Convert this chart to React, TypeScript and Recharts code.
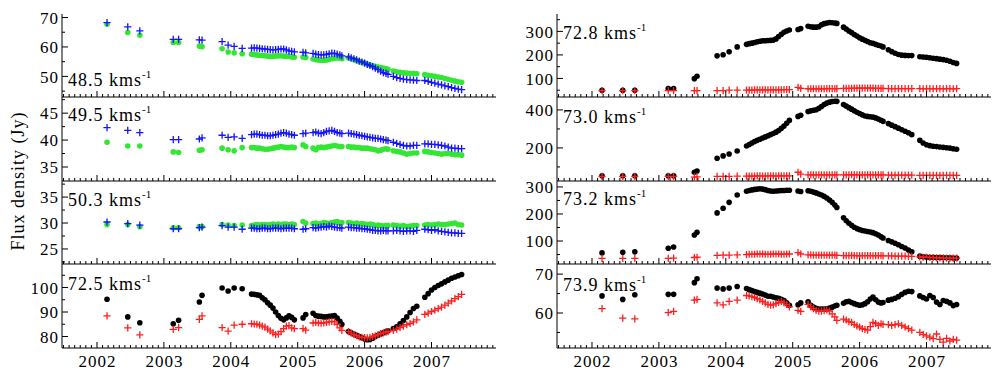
import { ScatterChart, Scatter, XAxis, YAxis } from 'recharts';

// observation epochs (decimal year), shared by every panel
const epochs = [
  2002.15, 2002.46, 2002.64, 2003.14, 2003.22, 2003.53, 2003.57, 2003.87, 2003.96, 2004.05, 2004.17,
  2004.31, 2004.35, 2004.39, 2004.43, 2004.47, 2004.51, 2004.55, 2004.59, 2004.63, 2004.67, 2004.71, 2004.75, 2004.79, 2004.83, 2004.87, 2004.91, 2004.95,
  2005.08, 2005.12,
  2005.23, 2005.27, 2005.31, 2005.35, 2005.39, 2005.43, 2005.47, 2005.51, 2005.55, 2005.59, 2005.63, 2005.66,
  2005.76, 2005.8, 2005.84, 2005.88, 2005.92, 2005.96, 2006.0, 2006.04, 2006.08, 2006.12, 2006.16, 2006.2, 2006.24, 2006.28, 2006.32, 2006.35,
  2006.43, 2006.48, 2006.53, 2006.58, 2006.63, 2006.68, 2006.73, 2006.78,
  2006.9, 2006.95, 2007.0, 2007.05, 2007.1, 2007.15, 2007.2, 2007.25, 2007.3, 2007.35, 2007.4, 2007.45,
];

const yearTicks = [2002, 2003, 2004, 2005, 2006, 2007];
const monthTicks = Array.from({ length: 78 }, (_, i) => 2001.5 + i / 12);

// 48.5 km/s
const f485Blue = [
  68.3, 66.8, 65.5, 62.6, 62.6, 62.4, 62.3, 61.8, 60.6, 60.2, 59.5,
  59.6, 59.7, 59.6, 59.5, 59.4, 59.3, 59.2, 59.1, 59.0, 59.1, 59.2, 59.3, 59.3, 59.0, 58.7, 58.5, 58.3,
  58.2, 58.0,
  57.8, 57.6, 57.4, 57.3, 57.3, 57.5, 57.7, 57.9, 57.8, 57.6, 57.3, 57.0,
  56.6, 56.3, 56.0, 55.6, 55.2, 54.9, 54.5, 54.1, 53.7, 53.3, 52.8, 52.3, 51.8, 51.3, 51.0, 50.7,
  50.0, 49.6, 49.3, 49.1, 48.9, 48.8, 48.7, 48.6,
  48.6, 48.3, 48.0, 47.7, 47.4, 47.1, 46.8, 46.5, 46.2, 45.9, 45.7, 45.5,
];
const f485Green = [
  67.7, 64.9, 64.0, 61.5, 61.5, 60.3, 60.1, 59.4, 58.3, 58.0, 57.7,
  57.5, 57.4, 57.3, 57.2, 57.1, 57.0, 56.9, 56.8, 56.8, 56.9, 57.0, 57.0, 56.9, 56.8, 56.8, 56.6, 56.5,
  56.6, 56.4,
  55.9, 55.7, 55.6, 55.5, 55.5, 55.6, 55.8, 56.0, 56.2, 56.3, 56.2, 56.0,
  56.3, 56.0, 55.7, 55.4, 55.1, 54.8, 54.5, 54.2, 53.9, 53.6, 53.4, 53.2, 53.0, 52.8, 52.6, 52.4,
  51.8, 51.6, 51.4, 51.2, 51.1, 51.0, 51.0, 50.9,
  50.6, 50.4, 50.2, 50.0, 49.8, 49.6, 49.3, 49.0, 48.7, 48.4, 48.2, 48.0,
];

// 49.5 km/s
const f495Blue = [
  42.3, 41.8, 41.4, 40.1, 40.1, 40.2, 40.4, 40.9, 40.5, 40.6, 40.3,
  41.0, 41.1, 41.1, 41.0, 40.9, 40.9, 40.8, 40.8, 40.9, 41.0, 41.1, 41.3, 41.4, 41.3, 41.1, 41.0, 40.9,
  41.2, 41.3,
  41.4, 41.5, 41.3, 41.2, 41.4, 41.6, 41.7, 41.8, 41.6, 41.4, 41.3, 41.2,
  41.3, 41.2, 41.1, 41.0, 40.9, 40.8, 40.7, 40.6, 40.5, 40.4, 40.3, 40.3, 40.2, 40.1, 40.0, 39.9,
  39.6, 39.4, 39.2, 39.0, 38.9, 38.9, 39.0, 39.0,
  39.3, 39.3, 39.2, 39.2, 39.1, 39.0, 38.9, 38.7, 38.5, 38.5, 38.4, 38.4,
];
const f495Green = [
  39.6, 38.9, 38.9, 37.8, 37.7, 38.1, 38.2, 38.5, 38.2, 38.0, 38.6,
  38.6, 38.6, 38.5, 38.5, 38.4, 38.3, 38.3, 38.4, 38.5, 38.6, 38.7, 38.8, 38.7, 38.6, 38.6, 38.7, 38.6,
  39.1, 38.8,
  38.5, 38.2, 38.6, 38.7, 38.6, 38.7, 38.8, 38.9, 39.0, 38.9, 38.8, 38.8,
  38.8, 38.7, 38.7, 38.6, 38.6, 38.5, 38.5, 38.5, 38.4, 38.3, 38.2, 38.0, 38.1, 38.3, 38.4, 38.3,
  38.0, 37.9, 37.8, 37.6, 37.4, 37.5, 37.6, 37.6,
  37.9, 37.8, 37.7, 37.6, 37.5, 37.4, 37.5, 37.5, 37.4, 37.3, 37.3, 37.2,
];

// 50.3 km/s
const f503Blue = [
  30.2, 29.9, 29.6, 28.9, 28.9, 29.1, 29.2, 29.5, 29.2, 29.2, 28.8,
  29.0, 29.0, 28.9, 28.9, 29.0, 29.0, 28.9, 28.9, 29.0, 29.0, 29.0, 28.9, 29.0, 29.0, 29.0, 29.0, 28.9,
  28.8, 28.9,
  29.1, 29.0, 29.1, 29.2, 29.3, 29.2, 29.4, 29.3, 29.2, 29.1, 29.1, 29.0,
  29.2, 29.1, 29.1, 29.0, 29.0, 28.9, 28.9, 28.8, 28.7, 28.6, 28.6, 28.5, 28.5, 28.6, 28.5, 28.5,
  28.5, 28.6, 28.5, 28.4, 28.5, 28.5, 28.4, 28.6,
  28.8, 28.7, 28.6, 28.7, 28.5, 28.4, 28.3, 28.2, 28.1, 28.1, 28.0, 28.0,
];
const f503Green = [
  29.7, 29.7, 29.3, 29.1, 29.1, 29.3, 29.3, 29.7, 29.6, 29.5, 29.6,
  29.5, 29.6, 29.7, 29.6, 29.7, 29.7, 29.6, 29.7, 29.8, 29.7, 29.8, 29.7, 29.8, 29.8, 29.7, 29.8, 29.7,
  30.3, 30.0,
  29.9, 30.0, 29.8, 29.9, 30.1, 30.0, 29.9, 30.1, 30.2, 30.3, 30.0, 30.1,
  30.1, 30.0, 29.9, 30.0, 29.8, 29.9, 29.8, 29.7, 29.8, 29.7, 29.5, 29.6, 29.5, 29.4, 29.5, 29.5,
  29.6, 29.5, 29.4, 29.5, 29.3, 29.4, 29.5, 29.5,
  29.6, 29.7, 29.6, 29.7, 29.8, 29.7, 29.7, 29.8, 29.9, 30.0, 29.7, 29.6,
];

// 72.5 km/s
const f725Black = [
  95.2, 88.0, 85.6, 85.2, 86.6, 94.1, 96.8, 99.8, 98.6, 99.8, 99.5,
  97.3, 97.2, 97.0, 96.8, 95.8, 95.0, 93.8, 92.8, 91.6, 90.0, 88.6, 87.4, 86.8, 87.6, 88.4, 87.8, 86.8,
  87.6, 89.0,
  89.5, 88.6, 88.3, 88.2, 88.0, 88.0, 88.2, 88.3, 88.5, 87.5, 86.2, 85.0,
  82.0, 81.5, 81.0, 80.5, 80.0, 79.5, 79.0, 78.7, 78.8, 79.3, 80.0, 80.5, 81.0, 81.5, 82.0, 82.3,
  83.2, 84.0, 85.2, 86.5, 88.0, 89.8, 91.4, 92.3,
  96.0, 97.5, 99.0, 100.0, 100.8, 101.5, 102.3, 103.0, 103.8, 104.3, 104.8, 105.3,
];
const f725Red = [
  88.4, 83.5, 80.7, 82.9, 83.6, 87.0, 88.4, 83.6, 82.2, 84.6, 85.0,
  85.2, 85.1, 85.0, 84.6, 84.2, 83.8, 83.0, 82.3, 81.5, 80.8, 81.0, 82.0, 83.2, 84.2, 84.4, 83.5, 83.2,
  83.2, 82.6,
  85.5, 85.8, 85.5, 85.4, 85.5, 85.8, 86.0, 86.2, 86.0, 85.0, 83.5, 82.5,
  82.0, 81.4, 80.8, 80.3, 79.8, 79.6, 79.5, 79.4, 79.6, 80.0, 80.3, 80.8, 81.2, 81.5, 81.8, 82.0,
  82.5, 83.0, 83.6, 84.2, 84.8, 85.3, 86.0, 86.8,
  89.0, 89.5, 90.2, 90.8, 91.4, 92.0, 92.8, 93.6, 94.5, 95.5, 96.3, 97.2,
];

// 72.8 km/s
const f728Black = [
  50, 50, 50, 57, 57, 99, 109, 196, 201, 213, 234,
  245, 248, 250, 253, 256, 258, 260, 260, 261, 262, 263, 268, 278, 288, 296, 302, 306,
  308, 312,
  322, 320, 318, 318, 320, 328, 333, 336, 338, 337, 336, 334,
  318, 310, 302, 295, 287, 280, 273, 267, 262, 257, 252, 249, 245, 241, 238, 234,
  222, 214, 207, 202, 199, 198, 197, 197,
  192, 191, 190, 188, 186, 184, 182, 180, 177, 173, 168, 164,
];
const f728Red = [
  48, 48, 48, 48, 48, 48, 48, 48, 48, 50, 50,
  50, 50, 50, 51, 51, 51, 51, 51, 51, 51, 51, 51, 51, 51, 52, 52, 52,
  62, 58,
  56, 56, 56, 56, 56, 56, 56, 57, 57, 57, 57, 57,
  58, 58, 58, 58, 59, 59, 59, 59, 59, 59, 59, 59, 58, 58, 58, 58,
  57, 57, 57, 57, 57, 57, 57, 57,
  57, 56, 57, 57, 56, 57, 57, 56, 57, 57, 56, 57,
];

// 73.0 km/s
const f730Black = [
  54, 54, 54, 54, 54, 72, 79, 146, 158, 168, 184,
  210, 218, 226, 234, 240, 246, 252, 258, 264, 270, 276, 283, 292, 303, 315, 330, 345,
  366, 372,
  392, 395, 398, 401, 408, 418, 428, 436, 441, 444, 446, 445,
  428, 420, 412, 404, 396, 388, 381, 374, 368, 366, 364, 362, 358, 352, 346, 340,
  328, 320, 312, 304, 296, 288, 280, 270,
  240, 226, 217, 212, 209, 207, 205, 203, 201, 199, 196, 193,
];
const f730Red = [
  50, 50, 50, 50, 50, 46, 48, 50, 50, 50, 52,
  52, 52, 52, 52, 53, 53, 52, 52, 53, 53, 53, 52, 53, 53, 53, 53, 53,
  72, 62,
  58, 58, 58, 58, 58, 58, 58, 58, 58, 58, 58, 58,
  58, 58, 58, 59, 58, 58, 58, 58, 58, 58, 59, 58, 58, 58, 58, 58,
  57, 57, 57, 57, 57, 57, 57, 57,
  56, 56, 56, 56, 56, 56, 56, 56, 56, 56, 56, 56,
];

// 73.2 km/s
const f732Black = [
  56, 58, 60, 73, 78, 122, 132, 204, 221, 243, 270,
  284, 287, 289, 291, 292, 293, 292, 290, 287, 285, 284, 285, 286, 287, 287, 288, 288,
  285, 283,
  286, 284, 281, 278, 274, 270, 265, 259, 252, 243, 233, 224,
  186, 175, 166, 158, 151, 146, 142, 139, 137, 135, 133, 131, 127, 122, 116, 111,
  102, 97, 92, 86, 80, 74, 67, 60,
  44, 42, 41, 40, 40, 39, 39, 38, 38, 38, 37, 37,
];
const f732Red = [
  36, 36, 36, 36, 37, 39, 40, 47, 48, 48, 49,
  50, 51, 51, 51, 52, 52, 52, 51, 51, 51, 52, 52, 52, 51, 51, 52, 52,
  57, 52,
  49, 49, 48, 48, 48, 48, 48, 48, 48, 48, 48, 47,
  46, 46, 46, 47, 46, 46, 45, 46, 46, 46, 46, 45, 46, 46, 46, 45,
  45, 45, 44, 44, 44, 44, 43, 43,
  41, 40, 40, 39, 39, 38, 38, 38, 37, 37, 37, 37,
];

// 73.9 km/s
const f739Black = [
  64.4, 63.5, 64.7, 64.8, 64.8, 67.8, 68.8, 66.4, 66.2, 66.4, 66.8,
  66.3, 66.0, 65.8, 65.5, 65.3, 65.1, 64.9, 64.6, 64.3, 64.3, 64.1, 63.9, 63.8, 63.5, 63.2, 62.6, 62.0,
  62.1, 62.6,
  62.9, 62.0, 61.5, 61.2, 61.0, 61.0, 61.0, 61.1, 61.3, 61.5, 61.8, 62.0,
  62.5, 62.9, 63.0, 62.7, 62.4, 62.2, 62.0, 62.1, 62.4, 62.9, 63.6, 64.1, 63.4, 62.8, 62.6, 62.7,
  63.3, 63.5, 63.8, 64.2, 64.8, 65.3, 65.6, 65.5,
  64.4, 64.0, 63.6, 64.5, 64.0, 62.8, 62.2, 63.2, 63.0, 62.6, 61.9, 62.2,
];
const f739Red = [
  61.1, 58.7, 58.5, 60.1, 60.4, 63.3, 63.5, 62.6, 62.1, 63.0, 63.3,
  64.5, 64.4, 64.2, 64.0, 63.7, 63.4, 63.0, 62.6, 62.2, 62.0, 62.1, 62.4, 62.7, 63.0, 62.6, 62.2, 61.6,
  60.7, 60.4,
  62.2, 61.6, 61.1, 60.7, 60.5, 60.5, 60.6, 60.8, 60.5, 59.8, 59.0, 58.1,
  58.4, 58.2, 57.8, 57.6, 57.1, 56.7, 56.4, 56.0, 55.8, 55.6, 56.5, 57.6, 57.3, 56.8, 57.2, 57.1,
  57.0, 56.8, 57.0, 57.2, 56.8, 56.4, 56.0, 55.6,
  55.0, 54.5, 54.1, 53.8, 53.4, 54.6, 53.2, 52.5, 53.5, 52.8, 53.2, 53.0,
];

const FONT = "'Liberation Serif', 'Times New Roman', serif";
const X_DOMAIN: [number, number] = [2001.477, 2007.964];
const PLOT_W = 434;
const AXIS_W = 48;
const PAD_TOP = 10;

const GREEN = '#33e633';
const BLUE = '#1414ff';
const RED = '#ff1e1e';
const BLACK = '#000000';

type Series = { values: number[]; kind: 'dot' | 'cross'; color: string };
type PanelDef = {
  name: string;
  left: number;
  top: number;
  height: number;
  domain: [number, number];
  major: number[];
  minor: number[];
  series: Series[];
  xLabels: boolean;
  labelY: number;
};

const panels: PanelDef[] = [
  { name: '48.5', left: 62, top: 14, height: 83, domain: [43, 71.2], major: [50, 60, 70], minor: [45, 55, 65],
    series: [{ values: f485Green, kind: 'dot', color: GREEN }, { values: f485Blue, kind: 'cross', color: BLUE }], xLabels: false, labelY: 86 },
  { name: '49.5', left: 62, top: 97, height: 84, domain: [32.4, 48], major: [35, 40, 45], minor: [37.5, 42.5, 47.5],
    series: [{ values: f495Green, kind: 'dot', color: GREEN }, { values: f495Blue, kind: 'cross', color: BLUE }], xLabels: false, labelY: 121 },
  { name: '50.3', left: 62, top: 181, height: 83, domain: [22.1, 38.1], major: [25, 30, 35], minor: [22.5, 27.5, 32.5, 37.5],
    series: [{ values: f503Green, kind: 'dot', color: GREEN }, { values: f503Blue, kind: 'cross', color: BLUE }], xLabels: false, labelY: 206 },
  { name: '72.5', left: 62, top: 264, height: 84, domain: [75.3, 109.6], major: [80, 90, 100], minor: [85, 95, 105],
    series: [{ values: f725Black, kind: 'dot', color: BLACK }, { values: f725Red, kind: 'cross', color: RED }], xLabels: true, labelY: 290 },
  { name: '72.8', left: 557, top: 14, height: 83, domain: [21, 374], major: [100, 200, 300], minor: [50, 150, 250, 350],
    series: [{ values: f728Black, kind: 'dot', color: BLACK }, { values: f728Red, kind: 'cross', color: RED }], xLabels: false, labelY: 39 },
  { name: '73.0', left: 557, top: 97, height: 84, domain: [26, 468], major: [200, 400], minor: [100, 300],
    series: [{ values: f730Black, kind: 'dot', color: BLACK }, { values: f730Red, kind: 'cross', color: RED }], xLabels: false, labelY: 123 },
  { name: '73.2', left: 557, top: 181, height: 83, domain: [15, 322], major: [100, 200, 300], minor: [50, 150, 250],
    series: [{ values: f732Black, kind: 'dot', color: BLACK }, { values: f732Red, kind: 'cross', color: RED }], xLabels: false, labelY: 205 },
  { name: '73.9', left: 557, top: 264, height: 84, domain: [51, 72.6], major: [60, 70], minor: [55, 65],
    series: [{ values: f739Black, kind: 'dot', color: BLACK }, { values: f739Red, kind: 'cross', color: RED }], xLabels: true, labelY: 291 },
];

const points = (vals: number[]) => epochs.map((t, i) => ({ t, v: vals[i] }));

const dotShape = (color: string) => (p: any) => <circle cx={p.cx} cy={p.cy} r={2.8} fill={color} />;
const crossShape = (color: string) => (p: any) => (
  <path d={`M${p.cx - 3.6},${p.cy}h7.2M${p.cx},${p.cy - 3.6}v7.2`} stroke={color} strokeWidth={1.3} fill="none" />
);

function xTick(side: 'top' | 'bottom', labels: boolean) {
  return (p: any) => {
    const v = p.payload.value;
    const major = yearTicks.some((y) => Math.abs(y - v) < 1e-6);
    const len = major ? 6 : 3;
    const d = side === 'bottom' ? -len : len;
    return (
      <g>
        <line x1={p.x} x2={p.x} y1={p.y} y2={p.y + d} stroke="#000" strokeWidth={1} />
        {labels && major ? (
          <text x={p.x + 0.5} y={p.y + 19} textAnchor="middle" fontFamily={FONT} fontSize={17} letterSpacing={1} fill="#000">
            {Math.round(v)}
          </text>
        ) : null}
      </g>
    );
  };
}

function yTick(side: 'left' | 'right', major: number[]) {
  return (p: any) => {
    const v = p.payload.value;
    const isMajor = major.includes(v);
    const len = isMajor ? 6 : 3;
    const d = side === 'left' ? len : -len;
    return (
      <g>
        <line x1={p.x} x2={p.x + d} y1={p.y} y2={p.y} stroke="#000" strokeWidth={1} />
        {side === 'left' && isMajor ? (
          <text x={p.x - 3} y={p.y} dy="0.36em" textAnchor="end" fontFamily={FONT} fontSize={17} letterSpacing={1} fill="#000">
            {v}
          </text>
        ) : null}
      </g>
    );
  };
}

function Panel({ def }: { def: PanelDef }) {
  const ticks = [...def.major, ...def.minor].sort((a, b) => a - b);
  return (
    <div style={{ position: 'absolute', left: def.left - AXIS_W, top: def.top - PAD_TOP }}>
      <ScatterChart width={AXIS_W + PLOT_W + 6} height={def.height + PAD_TOP + 24} margin={{ top: PAD_TOP, right: 6, bottom: 0, left: 0 }}>
        <XAxis xAxisId="b" dataKey="t" type="number" domain={X_DOMAIN} allowDataOverflow ticks={monthTicks} interval={0}
          tickSize={0} tickMargin={0} tickLine={false} axisLine={{ stroke: '#000' }} height={24} tick={xTick('bottom', def.xLabels)} />
        <XAxis xAxisId="t" orientation="top" dataKey="t" type="number" domain={X_DOMAIN} allowDataOverflow ticks={monthTicks} interval={0}
          tickSize={0} tickMargin={0} tickLine={false} axisLine={{ stroke: '#000' }} height={0} tick={xTick('top', false)} />
        <YAxis yAxisId="l" dataKey="v" type="number" domain={def.domain} allowDataOverflow ticks={ticks} interval={0}
          tickSize={0} tickMargin={0} tickLine={false} axisLine={{ stroke: '#000' }} width={AXIS_W} tick={yTick('left', def.major)} />
        <YAxis yAxisId="r" orientation="right" dataKey="v" type="number" domain={def.domain} allowDataOverflow ticks={ticks} interval={0}
          tickSize={0} tickMargin={0} tickLine={false} axisLine={{ stroke: '#000' }} width={0} tick={yTick('right', def.major)} />
        {def.series.map((s, i) => (
          <Scatter key={i} xAxisId="b" yAxisId="l" data={points(s.values)} isAnimationActive={false}
            shape={s.kind === 'dot' ? dotShape(s.color) : crossShape(s.color)} />
        ))}
      </ScatterChart>
    </div>
  );
}

export default function App() {
  return (
    <div style={{ position: 'absolute', left: 0, top: 0, width: 992, height: 371, background: '#fff', overflow: 'hidden' }}>
      {panels.map((p) => (
        <Panel key={p.name} def={p} />
      ))}
      <svg width={992} height={371} style={{ position: 'absolute', left: 0, top: 0, pointerEvents: 'none' }}>
        {panels.map((p) => (
          <text key={p.name} x={p.left + 6} y={p.labelY} fontFamily={FONT} fontSize={18} letterSpacing={1} fill="#000">
            {p.name} kms
            <tspan fontSize={11} dy={-8} letterSpacing={0}>-1</tspan>
          </text>
        ))}
        <text transform="translate(24,181) rotate(-90)" textAnchor="middle" fontFamily={FONT} fontSize={18} letterSpacing={1} fill="#000">
          Flux density (Jy)
        </text>
      </svg>
    </div>
  );
}
